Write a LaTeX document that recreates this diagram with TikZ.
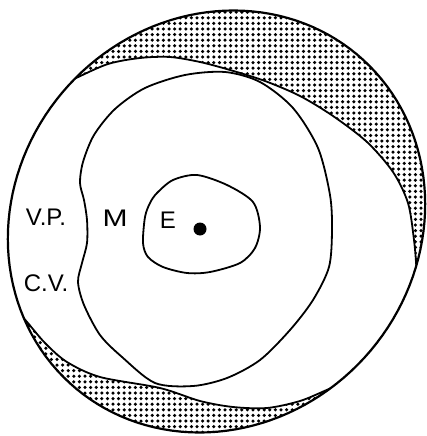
\documentclass[tikz,border=0pt]{standalone}
\usepackage{fontspec}
\usepackage{graphicx}
\setmainfont{Liberation Sans}
\newcommand{\Acurve}{plot[domain=0:360,samples=145,variable=\t] ({216.5+0.7071*(217*cos(\t)+200*sin(\t))},{221.5+0.715*(-217*cos(\t)+200*sin(\t))}) -- cycle}
\newcommand{\Bcurve}{plot[smooth cycle] coordinates {(75,78.5) (108,64) (140,58) (170,57) (200,62) (230,70) (265,81) (300,96) (333,116) (367,142) (393,172) (408,203) (414,240) (416.5,270) (417,298) (406,328) (385,355) (358,377) (329,389) (300,401) (267,408) (233,407) (200,401) (160,388) (100,377) (67,362) (45,343) (24,318.5) (3,297) (-8,250) (-5,200) (15,140) (45,92.5)}}
\begin{document}
\begin{tikzpicture}[x=1pt,y=-1pt,
  line/.style={line width=1.8pt, line join=round},
  outer/.style={line width=2.2pt, line join=round},
  lbl/.style={font=\fontsize{24}{24}\selectfont, inner sep=0pt, anchor=center}]
\useasboundingbox (0,0) rectangle (426,436);
% dotted (shaded) region
\begin{scope}
  \clip \Acurve;
  \foreach \i in {0,...,76} { \fill \foreach \j in {0,...,78} { (\i*5.6+1,\j*5.6+1) circle (1.75) }; }
\end{scope}
% white inner region
\begin{scope}
  \clip \Acurve;
  \fill[white] \Bcurve;
  \draw[line] \Bcurve;
\end{scope}
\draw[outer] \Acurve;
% M boundary
\draw[line] plot[smooth cycle] coordinates {(80,183) (83,162) (94,135) (115,109) (145,88) (185,75) (225,72) (260,82) (293,108) (318,148) (330,195) (332,230) (329,267) (313,300) (290,330) (260,360) (227,378) (193,386) (155,383) (122,357) (100,335) (84,305) (78,282) (82,263) (87,243) (87,220) (84,200)};
% E boundary
\draw[line] plot[smooth cycle] coordinates {(143,243) (145,217) (150,203) (157,193) (173,180) (197,175) (227,185) (253,202) (260,227) (255,248) (240,263) (210,272) (187,273) (163,267) (148,257)};
\fill (200,229) circle (6.5);
\node[lbl] (vp) at (46,217) {V.P.};
\node[lbl] (cv) at (46,283) {C.V.};
\node[lbl] (m) at (115,218) {\scalebox{1.25}[1]{M}};
\node[lbl] (e) at (168,220) {E};
\end{tikzpicture}
\end{document}
